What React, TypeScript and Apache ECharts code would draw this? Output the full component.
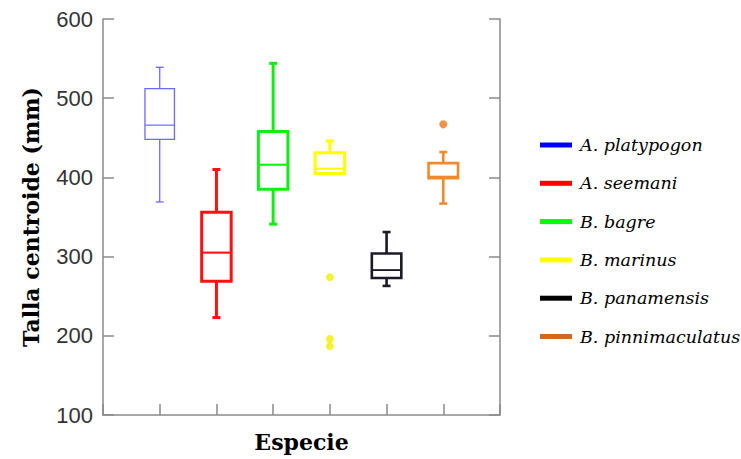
import React, { useEffect, useRef } from "react";
import * as echarts from "echarts";

const CATEGORIES = ["A. platypogon", "A. seemani", "B. bagre", "B. marinus", "B. panamensis", "B. pinnimaculatus"];
const MINS = [369, 223, 341, 405, 263, 367];
const Q1S = [448, 269, 385, 405, 273, 399];
const MEDIANS = [466, 305, 416, 411, 283, 401];
const Q3S = [512, 356, 458, 431, 304, 418];
const MAXS = [539, 410, 544, 446, 331, 432];
const OUTLIERS: number[][] = [[], [], [], [274, 196, 187], [], [467]];

const BOX_COLORS = ["#6a6aff", "#ff1010", "#10f010", "#ffff00", "#1a1a28", "#f28a2a"];
const OUTLIER_COLORS = ["#6a6aff", "#ff1010", "#10f010", "#f0f000", "#1a1a28", "#e8781e"];
const LEGEND_COLORS = ["#0000ff", "#ff0000", "#00ff00", "#ffff00", "#000000", "#d2691e"];
const LINE_WIDTHS = [1.3, 3, 3, 3, 2.6, 2.6];

export default function App() {
  const ref = useRef<HTMLDivElement>(null);
  useEffect(() => {
    if (!ref.current) return;
    const chart = echarts.init(ref.current, null, { renderer: "svg" });
    const axisColor = "#8a8a8a";

    const boxSeries = CATEGORIES.map((name, i) => {
      const color = BOX_COLORS[i];
      const lw = LINE_WIDTHS[i];
      return {
        type: "custom",
        name,
        xAxisIndex: 0,
        yAxisIndex: 0,
        itemStyle: { color: LEGEND_COLORS[i] },
        data: [[i + 1, MINS[i], Q1S[i], MEDIANS[i], Q3S[i], MAXS[i]]],
        encode: { x: 0, y: [1, 2, 3, 4, 5] },
        renderItem: (params: any, api: any) => {
          const x = api.value(0);
          const pMin = api.coord([x, api.value(1)]);
          const pQ1 = api.coord([x, api.value(2)]);
          const pMed = api.coord([x, api.value(3)]);
          const pQ3 = api.coord([x, api.value(4)]);
          const pMax = api.coord([x, api.value(5)]);
          const half = api.size([1, 0])[0] * 0.26;
          const cap = 4;
          const cx = pMed[0];
          const st = { stroke: color, lineWidth: lw, fill: "none" };
          return {
            type: "group",
            children: [
              { type: "line", shape: { x1: cx, y1: pMax[1], x2: cx, y2: pQ3[1] }, style: st },
              { type: "line", shape: { x1: cx, y1: pQ1[1], x2: cx, y2: pMin[1] }, style: st },
              { type: "line", shape: { x1: cx - cap, y1: pMax[1], x2: cx + cap, y2: pMax[1] }, style: st },
              { type: "line", shape: { x1: cx - cap, y1: pMin[1], x2: cx + cap, y2: pMin[1] }, style: st },
              {
                type: "rect",
                shape: { x: cx - half, y: pQ3[1], width: half * 2, height: pQ1[1] - pQ3[1] },
                style: { stroke: color, lineWidth: lw, fill: "#ffffff" },
              },
              {
                type: "line",
                shape: { x1: cx - half, y1: pMed[1], x2: cx + half, y2: pMed[1] },
                style: { stroke: color, lineWidth: Math.max(1.2, lw * 0.7) },
              },
            ],
          };
        },
      };
    });

    const outlierSeries = CATEGORIES.map((name, i) => ({
      type: "scatter",
      name,
      xAxisIndex: 0,
      yAxisIndex: 0,
      symbol: "circle",
      symbolSize: 8,
      itemStyle: { color: OUTLIER_COLORS[i] },
      data: OUTLIERS[i].map((v) => [i + 1, v]),
    })).filter((s) => s.data.length > 0);

    chart.setOption({
      animation: false,
      backgroundColor: "#ffffff",
      grid: { left: 103, right: 241, top: 19, bottom: 44 },
      legend: {
        orient: "vertical",
        left: 540,
        top: 136,
        padding: 0,
        icon: "rect",
        itemWidth: 32,
        itemHeight: 5,
        itemGap: 20.3,
        textStyle: {
          fontFamily: "DejaVu Serif",
          fontStyle: "italic",
          fontSize: 17.5,
          lineHeight: 16,
          color: "#000000",
          padding: [0, 0, 0, 3],
        },
        data: CATEGORIES.map((name, i) => ({ name, itemStyle: { color: LEGEND_COLORS[i] } })),
      },
      xAxis: {
        type: "value",
        min: 0,
        max: 7,
        interval: 1,
        name: "Especie",
        nameLocation: "middle",
        nameGap: 16,
        nameTextStyle: { fontFamily: "DejaVu Serif", fontWeight: "bold", fontSize: 22, color: "#000" },
        axisLine: { show: true, lineStyle: { color: axisColor, width: 1.5 } },
        axisTick: { show: true, inside: true, length: 11, lineStyle: { color: axisColor, width: 1.5 } },
        axisLabel: { show: false },
        splitLine: { show: false },
      },
      yAxis: [
        {
          type: "value",
          min: 100,
          max: 600,
          interval: 100,
          name: "Talla centroide (mm)",
          nameLocation: "middle",
          nameRotate: 90,
          nameGap: 61,
          nameTextStyle: { fontFamily: "DejaVu Serif", fontWeight: "bold", fontSize: 22, color: "#000" },
          axisLine: { show: true, lineStyle: { color: axisColor, width: 1.5 } },
          axisTick: { show: true, inside: true, length: 11, lineStyle: { color: axisColor, width: 1.5 } },
          axisLabel: { fontFamily: "Liberation Sans", fontSize: 22, color: "#333333", margin: 10 },
          splitLine: { show: false },
        },
        {
          type: "value",
          min: 100,
          max: 600,
          interval: 100,
          position: "right",
          axisLine: { show: true, lineStyle: { color: axisColor, width: 1.5 } },
          axisTick: { show: true, inside: true, length: 11, lineStyle: { color: axisColor, width: 1.5 } },
          axisLabel: { show: false },
          splitLine: { show: false },
        },
      ],
      series: [...boxSeries, ...outlierSeries],
    } as any);
    return () => chart.dispose();
  }, []);
  return <div ref={ref} style={{ width: 741, height: 459, position: "absolute", left: 0, top: 0 }} />;
}
